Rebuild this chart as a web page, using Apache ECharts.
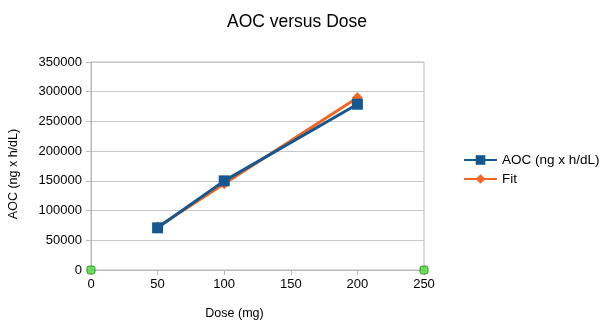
<!DOCTYPE html>
<html>
<head>
<meta charset="utf-8">
<script src="https://cdn.jsdelivr.net/npm/echarts@6/dist/echarts.min.js"></script>
<style>
  html, body { margin: 0; padding: 0; background: #fff; }
  #chart { width: 609px; height: 331px; }
</style>
</head>
<body>
<div id="chart"></div>
<script>
// Dose levels (mg) and measured AOC values
const doses = [50, 100, 200];
const aocValues = [71000, 150000, 279000];
// Fitted curve values at the same doses
const fitValues = [72500, 145000, 290000];
// Axis-end anchor points
const anchorX = [0, 250];
const anchorY = [0, 0];

const FONT = 'Liberation Sans, Arial, sans-serif';
const pairs = (xs, ys) => xs.map((x, i) => [x, ys[i]]);

const chart = echarts.init(document.getElementById('chart'), null, { renderer: 'canvas' });
chart.setOption({
  animation: false,
  backgroundColor: '#ffffff',
  title: {
    text: 'AOC versus Dose',
    left: 292, top: 8, textAlign: 'center',
    textStyle: { fontFamily: FONT, fontSize: 17.5, fontWeight: 'normal', color: '#000' }
  },
  legend: {
    orient: 'vertical',
    left: 458, top: 148,
    itemWidth: 33, itemHeight: 12, itemGap: 5,
    data: ['AOC (ng x h/dL)', 'Fit'],
    textStyle: { fontFamily: FONT, fontSize: 13.5, color: '#000' }
  },
  grid: { left: 91, right: 185, top: 62, bottom: 61, show: true, borderColor: '#b8b8b8', borderWidth: 1, outerBoundsMode: 'none', containLabel: false },
  xAxis: {
    type: 'value', min: 0, max: 250, interval: 50,
    name: 'Dose (mg)', nameLocation: 'middle', nameGap: 37,
    nameTextStyle: { fontFamily: FONT, fontSize: 12.5, color: '#000', padding: [0, 46, 0, 0] },
    axisLine: { show: true, lineStyle: { color: '#b8b8b8' } },
    axisTick: { show: true, length: 5, lineStyle: { color: '#b8b8b8' } },
    axisLabel: { fontFamily: FONT, fontSize: 13, color: '#000', margin: 8 },
    splitLine: { show: false }
  },
  yAxis: {
    type: 'value', min: 0, max: 350000, interval: 50000,
    name: 'AOC (ng x h/dL)', nameLocation: 'middle', nameGap: 71, nameRotate: 90,
    nameTextStyle: { fontFamily: FONT, fontSize: 12.5, color: '#000', padding: [0, 16, 0, 0] },
    axisLine: { show: true, lineStyle: { color: '#b8b8b8' } },
    axisTick: { show: true, length: 5, lineStyle: { color: '#b8b8b8' } },
    axisLabel: { fontFamily: FONT, fontSize: 13, color: '#000', margin: 9, formatter: v => String(v) },
    splitLine: { show: true, lineStyle: { color: '#c8c8c8', width: 1 } }
  },
  series: [
    {
      name: 'Fit', type: 'line', z: 2,
      data: pairs(doses, fitValues),
      symbol: 'diamond', symbolSize: 11,
      itemStyle: { color: '#f26522' },
      lineStyle: { color: '#f26522', width: 3 }
    },
    {
      name: 'AOC (ng x h/dL)', type: 'line', z: 3,
      data: pairs(doses, aocValues),
      symbol: 'rect', symbolSize: 11,
      itemStyle: { color: '#14588f' },
      lineStyle: { color: '#14588f', width: 3 }
    },
    {
      name: 'anchor', type: 'scatter', z: 4,
      data: pairs(anchorX, anchorY),
      symbol: 'roundRect', symbolSize: 8,
      itemStyle: { color: '#44dd33', borderColor: '#2a7a1e', borderWidth: 1 }
    }
  ]
});
</script>
</body>
</html>
